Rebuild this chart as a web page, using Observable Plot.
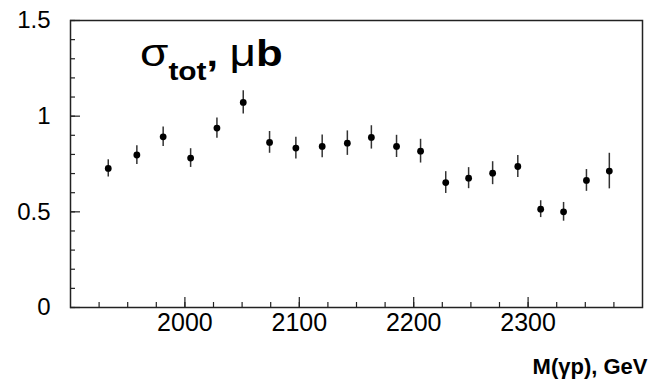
<!DOCTYPE html>
<html>
<head>
<meta charset="utf-8">
<script src="https://cdn.jsdelivr.net/npm/d3@7"></script>
<script src="https://cdn.jsdelivr.net/npm/@observablehq/plot@0.6"></script>
<style>
  html, body { margin: 0; padding: 0; background: #fff; }
  #chart { width: 664px; height: 381px; }
</style>
</head>
<body>
<div id="chart"></div>
<script>
// Invariant mass M(γp), GeV
const mass = [1933, 1958, 1981, 2005, 2028, 2051, 2074, 2097, 2120, 2142, 2163, 2185, 2206, 2228, 2248, 2269, 2291, 2311, 2331, 2351, 2371];
// Total cross section σ_tot, μb
const sigma = [0.727, 0.797, 0.892, 0.781, 0.938, 1.072, 0.863, 0.833, 0.842, 0.859, 0.889, 0.842, 0.817, 0.653, 0.676, 0.702, 0.737, 0.514, 0.500, 0.664, 0.713];
// Statistical errors
const err = [0.045, 0.049, 0.051, 0.049, 0.053, 0.061, 0.057, 0.057, 0.059, 0.064, 0.061, 0.058, 0.062, 0.057, 0.055, 0.060, 0.057, 0.044, 0.049, 0.057, 0.093];

const yTickLabels = [0, 0.5, 1, 1.5];
const yMinorTicks = d3.range(0, 16).map(i => i / 10);
const xTickLabels = [2000, 2100, 2200, 2300];
const xMinorTicks = d3.range(1925, 2400, 25);

const data = mass.map((m, i) => ({m, s: sigma[i], lo: sigma[i] - err[i], hi: sigma[i] + err[i]}));

const axisColor = "#222";
const plot = Plot.plot({
  width: 664,
  height: 381,
  marginLeft: 70,
  marginRight: 22,
  marginTop: 20,
  marginBottom: 74,
  style: {fontFamily: "'Liberation Sans', Arial, sans-serif", fontSize: "24px", color: "#000", background: "#fff"},
  x: {domain: [1900, 2400]},
  y: {domain: [0, 1.5]},
  marks: [
    Plot.frame({stroke: axisColor, strokeWidth: 1.5}),
    Plot.axisY({ticks: yMinorTicks, tickSize: -5, tickFormat: () => "", label: null, stroke: axisColor, strokeWidth: 1.2}),
    Plot.axisY({ticks: yTickLabels, tickSize: -10, tickFormat: () => "", label: null, stroke: axisColor, strokeWidth: 1.2}),
    Plot.axisY({ticks: yTickLabels, tickSize: 0, tickPadding: 20, tickFormat: d => String(d), label: null, fontSize: 24}),
    Plot.axisX({ticks: xMinorTicks, tickSize: -5, tickFormat: () => "", label: null, stroke: axisColor, strokeWidth: 1.2}),
    Plot.axisX({ticks: xTickLabels, tickSize: -10, tickFormat: () => "", label: null, stroke: axisColor, strokeWidth: 1.2}),
    Plot.axisX({ticks: xTickLabels, tickSize: 0, tickPadding: 6, tickFormat: d => String(d), label: null, fontSize: 25}),
    Plot.ruleX(data, {x: "m", y1: "lo", y2: "hi", stroke: "#333", strokeWidth: 1.5}),
    Plot.dot(data, {x: "m", y: "s", r: 3.4, fill: "#000", stroke: null}),
    Plot.text(["M(γp), GeV"], {frameAnchor: "bottom-right", dx: 5, dy: 66, lineAnchor: "bottom", textAnchor: "end", fontWeight: "bold", fontSize: 22, fill: "#000"})
  ]
});

// Title annotation σ_tot, μb inside the frame
const svg = d3.select(plot);
const t = svg.append("text")
  .attr("text-anchor", "start")
  .attr("transform", "translate(140,66) scale(1.15,0.97)")
  .attr("font-family", "'Liberation Sans', Arial, sans-serif")
  .attr("fill", "#000");
t.append("tspan").attr("font-size", 40).text("σ");
t.append("tspan").attr("font-size", 26).attr("font-weight", "bold").attr("dy", 14).text("tot");
t.append("tspan").attr("font-size", 36).attr("font-weight", "bold").attr("dy", -14).text(", ");
t.append("tspan").attr("font-size", 40).text("μ");
t.append("tspan").attr("font-size", 38).attr("font-weight", "bold").text("b");

document.getElementById("chart").appendChild(plot);
</script>
</body>
</html>
